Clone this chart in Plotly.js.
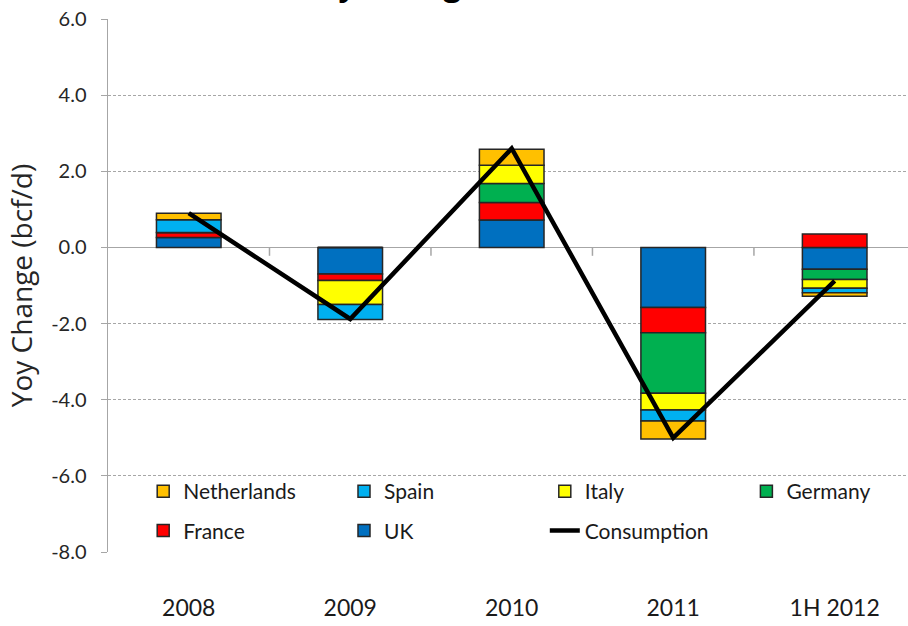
<!DOCTYPE html>
<html>
<head>
<meta charset="utf-8">
<script src="https://cdn.plot.ly/plotly-3.0.1.min.js"></script>
<style>html,body{margin:0;padding:0;background:#fff;overflow:hidden}</style>
</head>
<body>
<div id="chart" style="width:908px;height:626px"></div>
<script>
const categories = ["2008", "2009", "2010", "2011", "1H 2012"];
const uk          = [0.26, -0.70, 0.72, -1.58, -0.57];
const france      = [0.13, -0.17, 0.46, -0.66, 0.35];
const germany     = [0.00,  0.00, 0.50, -1.59, -0.27];
const italy       = [0.00, -0.63, 0.48, -0.44, -0.23];
const spain       = [0.34, -0.39, 0.00, -0.29, -0.12];
const netherlands = [0.17,  0.00, 0.42, -0.47, -0.09];
const consumption = [0.90, -1.88, 2.60, -5.00, -0.88];
const yTicks = [6, 4, 2, 0, -2, -4, -6, -8];

const FONT = 'Lato, "Open Sans", sans-serif';
const border = {color: '#262626', width: 1.5};

function barTrace(name, vals, color, legend, rank) {
  return {type: 'bar', name: name, x: categories, y: vals, width: 0.4,
    marker: {color: color, line: border}, legend: legend, legendgroup: name, legendrank: rank};
}

// legend columns: legend (Netherlands, France), legend2 (Spain, UK),
// legend3 (Italy, Consumption), legend4 (Germany)
const traces = [
  barTrace('UK', uk, '#0070C0', 'legend2', 6),
  barTrace('France', france, '#FF0000', 'legend', 5),
  barTrace('Germany', germany, '#00B050', 'legend4', 4),
  barTrace('Italy', italy, '#FFFF00', 'legend3', 3),
  barTrace('Spain', spain, '#00B0F0', 'legend2', 2),
  barTrace('Netherlands', netherlands, '#FFC000', 'legend', 1),
  {type: 'scatter', mode: 'lines', name: 'Consumption', x: categories, y: consumption,
   line: {color: '#000000', width: 4.5}, legend: 'legend3', legendgroup: 'Consumption', legendrank: 7}
];

const legendCommon = {orientation: 'v', xanchor: 'left', yanchor: 'top',
  traceorder: 'grouped', tracegroupgap: 9, bgcolor: 'rgba(0,0,0,0)',
  font: {family: FONT, size: 21, color: '#1a1a1a'}, itemwidth: 30};
const legendY = 0.152;

const layout = {
  width: 908, height: 626,
  margin: {l: 108, r: 0, t: 19, b: 74},
  paper_bgcolor: '#ffffff', plot_bgcolor: '#ffffff',
  barmode: 'relative',
  showlegend: true,
  legend:  Object.assign({}, legendCommon, {x: 0.044, y: legendY}),
  legend2: Object.assign({}, legendCommon, {x: 0.295, y: legendY}),
  legend3: Object.assign({}, legendCommon, {x: 0.546, y: legendY}),
  legend4: Object.assign({}, legendCommon, {x: 0.798, y: legendY}),
  xaxis: {
    type: 'category', range: [-0.5, 4.454], showgrid: false, zeroline: false,
    showline: false, ticks: '', ticklabelstandoff: 40,
    tickfont: {family: FONT, size: 23, color: '#1a1a1a'}
  },
  yaxis: {
    range: [-8, 6], tickvals: yTicks, ticktext: yTicks.map(v => v.toFixed(1)),
    showgrid: true, gridcolor: '#a6a6a6', griddash: '3px,2px', gridwidth: 1,
    zeroline: true, zerolinecolor: '#a6a6a6', zerolinewidth: 1.5,
    showline: true, linecolor: '#a6a6a6', linewidth: 1.5,
    ticks: 'outside', ticklen: 6, tickcolor: '#a6a6a6', ticklabelstandoff: 10,
    tickfont: {family: FONT, size: 20, color: '#262626'},
    title: {text: 'Yoy Change (bcf/d)', standoff: 10,
      font: {family: '"Open Sans", sans-serif', size: 28, color: '#262626'}}
  },
  annotations: [{
    text: '<b>Yoy Change in Demand</b>', xref: 'paper', yref: 'paper',
    x: 0.4625, y: 1.022, xanchor: 'center', yanchor: 'bottom', showarrow: false,
    font: {family: '"Open Sans", sans-serif', size: 31, color: '#000'}
  }],
  shapes: [0.5, 1.5, 2.5, 3.5].map(b => ({type: 'line', xref: 'x', yref: 'y',
    x0: b, x1: b, y0: 0, y1: -0.22, line: {color: '#a6a6a6', width: 1.5}}))
};

Plotly.newPlot('chart', traces, layout, {displayModeBar: false, staticPlot: true});
</script>
</body>
</html>
